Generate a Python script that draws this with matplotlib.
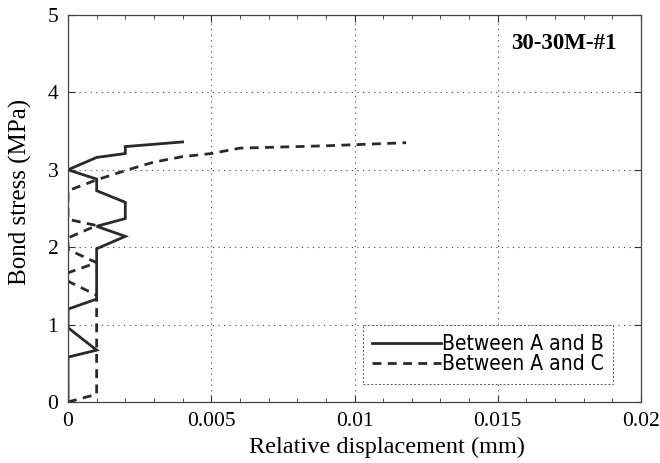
import numpy as np
import matplotlib
matplotlib.use("Agg")
import matplotlib.pyplot as plt
from matplotlib.ticker import MultipleLocator

# so lieu doc tu hinh: do truot tuong doi (mm) va ung suat dinh (MPa)
ab_x = [0, 0, 0.001, 0, 0, 0.001, 0.001, 0.002, 0.001, 0.002, 0.002,
        0.001, 0.001, 0, 0.001, 0.002, 0.002, 0.004]
ab_y = [0, 0.58, 0.67, 0.96, 1.2, 1.33, 1.98, 2.14, 2.27, 2.37, 2.58,
        2.73, 2.88, 3.0, 3.16, 3.21, 3.30, 3.36]

ac_x = [0, 0.001, 0.001, 0, 0, 0.001, 0, 0, 0.001, 0, 0, 0.001, 0.002,
        0.003, 0.004, 0.005, 0.006, 0.009, 0.0118]
ac_y = [0, 0.1, 1.38, 1.56, 1.67, 1.80, 1.97, 2.12, 2.28, 2.36, 2.73,
        2.87, 2.99, 3.10, 3.17, 3.21, 3.28, 3.31, 3.35]

series_names = ["Between A and B", "Between A and C"]
x_ticks = [0, 0.005, 0.01, 0.015, 0.02]
x_tick_labels = ["0", "0.005", "0.01", "0.015", "0.02"]
y_ticks = [0, 1, 2, 3, 4, 5]
specimen = "30-30M-#1"

serif = ["Liberation Serif", "DejaVu Serif"]

fig = plt.figure(figsize=(6.6, 4.63), dpi=100)
ax = fig.add_axes([68 / 660, 1 - 402 / 463, 573 / 660, 387 / 463])

ax.plot(ab_x, ab_y, color="#2a2a2a", lw=2.0, ls="-",
        solid_joinstyle="miter", label=series_names[0])
ax.plot(ac_x, ac_y, color="#2a2a2a", lw=2.0, ls=(0, (3.2, 2.3)),
        label=series_names[1])

ax.set_xlim(0, 0.02)
ax.set_ylim(0, 5)
ax.set_xticks(x_ticks)
ax.set_xticklabels(x_tick_labels, fontfamily=serif, fontsize=15.5)
ax.set_yticks(y_ticks)
ax.set_yticklabels([str(v) for v in y_ticks], fontfamily=serif, fontsize=15.5)
ax.xaxis.set_minor_locator(MultipleLocator(0.001))

ax.tick_params(which="both", direction="in", top=True, right=True,
               color="#333333")
ax.tick_params(which="major", length=5, width=0.8, pad=7)
ax.tick_params(which="minor", length=3, width=0.6)
ax.grid(True, which="major", ls=(0, (1, 4)), color="#444444", lw=0.8)

for s in ax.spines.values():
    s.set_linewidth(0.9)
    s.set_color("#444444")

ax.set_xlabel("Relative displacement (mm)", fontfamily=serif, fontsize=17.5)
ax.xaxis.set_label_coords(0.557, -0.09, transform=ax.transAxes)
ax.xaxis.label.set_va("top")
ax.set_ylabel("Bond stress (MPa)", fontfamily=serif, fontsize=18)
ax.yaxis.set_label_coords(-0.063, 0.543, transform=ax.transAxes)

ax.text(0.0173, 4.63, specimen, fontfamily=serif, fontsize=16.5,
        fontweight="bold", ha="center", va="center")

leg = ax.legend(loc="upper left", bbox_to_anchor=(295 / 573, 77 / 387),
                prop={"family": ["Liberation Sans Narrow", "DejaVu Sans"],
                      "size": 15, "stretch": "condensed"},
                handlelength=3.3, handletextpad=0.05, labelspacing=0.0,
                borderpad=0.45, fancybox=False, framealpha=1,
                borderaxespad=0)
leg.get_frame().set_edgecolor("#555555")
leg.get_frame().set_linewidth(0.7)
leg.get_frame().set_linestyle((0, (2, 2)))

fig.savefig("out.png", dpi=100)
